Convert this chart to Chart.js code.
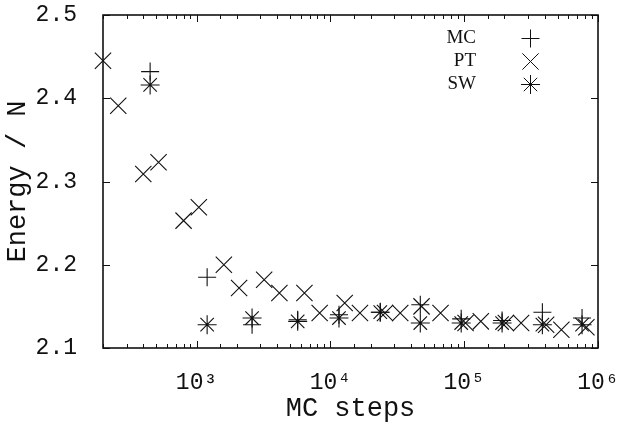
<!DOCTYPE html>
<html><head><meta charset="utf-8">
<script src="https://cdn.jsdelivr.net/npm/chart.js@4.4.0/dist/chart.umd.min.js"></script>
<style>html,body{margin:0;padding:0;background:#fff}</style>
</head><body><canvas id="c" width="617" height="428"></canvas>
<script>
// ---- data ----
const ptSteps  = [200, 260, 400, 520, 800, 1040, 1600, 2080, 3200, 4160, 6400, 8320, 12800, 16640, 25600, 33280, 48000, 66560, 102400, 133120, 204800, 266240, 409600, 532480, 819200];
const ptEnergy = [2.445, 2.391, 2.309, 2.323, 2.253, 2.269, 2.200, 2.172, 2.182, 2.166, 2.166, 2.142, 2.154, 2.142, 2.142, 2.142, 2.150, 2.142, 2.130, 2.132, 2.130, 2.130, 2.128, 2.122, 2.125];
const mcSteps  = [450, 1200, 2600, 5700, 11600, 23600, 47000, 95000, 192000, 384000, 760000];
const mcEnergy = [2.432, 2.185, 2.128, 2.134, 2.140, 2.143, 2.152, 2.135, 2.133, 2.143, 2.136];
const swSteps  = [450, 1200, 2600, 5700, 11600, 23600, 47000, 95000, 192000, 384000, 760000];
const swEnergy = [2.416, 2.128, 2.136, 2.132, 2.136, 2.143, 2.130, 2.130, 2.130, 2.128, 2.128];
const seriesNames = ['MC', 'PT', 'SW'];
const xTickValues = [1e3, 1e4, 1e5, 1e6];
const xTickLabels = ['10³', '10⁴', '10⁵', '10⁶'];
const yTickValues = [2.1, 2.2, 2.3, 2.4, 2.5];

const toPts = (xs, ys) => xs.map((x, i) => ({x: x, y: ys[i]}));
const MONO = '"Liberation Mono", "DejaVu Sans Mono", monospace';
const INK = '#111';

const markerStyles = {MC: {style: 'cross', r: 9}, PT: {style: 'crossRot', r: 11.5}, SW: {style: 'star', r: 9.5}};

const framePlugin = {
  id: 'frame',
  afterDatasetsDraw(chart) {
    const ctx = chart.ctx, a = chart.chartArea;
    const xs = chart.scales.x, ys = chart.scales.y;
    ctx.save();
    ctx.strokeStyle = INK;
    ctx.lineWidth = 1;
    xs.ticks.forEach(t => {
      const v = t.value;
      const px = Math.round(xs.getPixelForValue(v)) + 0.5;
      const lg = Math.log10(v);
      const major = Math.abs(lg - Math.round(lg)) < 1e-9;
      const len = major ? 7 : 4;
      ctx.beginPath();
      ctx.moveTo(px, a.bottom); ctx.lineTo(px, a.bottom - len);
      ctx.moveTo(px, a.top); ctx.lineTo(px, a.top + len);
      ctx.stroke();
    });
    yTickValues.forEach(v => {
      const py = Math.round(ys.getPixelForValue(v)) + 0.5;
      ctx.beginPath();
      ctx.moveTo(a.left, py); ctx.lineTo(a.left + 7, py);
      ctx.moveTo(a.right, py); ctx.lineTo(a.right - 7, py);
      ctx.stroke();
    });
    ctx.lineWidth = 1.6;
    ctx.strokeRect(a.left, a.top, a.right - a.left, a.bottom - a.top);
    ctx.font = '19px "Liberation Serif", "DejaVu Serif", serif';
    ctx.fillStyle = INK;
    ctx.textAlign = 'right';
    ctx.textBaseline = 'middle';
    seriesNames.forEach((n, i) => {
      const y = 38 + i * 23;
      ctx.fillText(n, 476, y);
      const m = markerStyles[n];
      ctx.lineWidth = 1;
      ctx.strokeStyle = INK;
      Chart.helpers.drawPoint(ctx, {pointStyle: m.style, radius: m.r, borderWidth: 1}, 530.5, y + 0.5);
    });
    ctx.restore();
  }
};

const ds = (label, xs, ys) => ({
  label: label,
  data: toPts(xs, ys),
  showLine: false,
  clip: false,
  pointStyle: markerStyles[label].style,
  pointRadius: markerStyles[label].r,
  pointBorderWidth: 1.1,
  borderColor: INK,
  backgroundColor: INK,
  pointHoverRadius: markerStyles[label].r
});

const zeroPad = s => { s.paddingTop = 0; s.paddingBottom = 0; s.paddingLeft = 0; s.paddingRight = 0; };

new Chart(document.getElementById('c'), {
  type: 'scatter',
  data: {datasets: [ds('MC', mcSteps, mcEnergy), ds('PT', ptSteps, ptEnergy), ds('SW', swSteps, swEnergy)]},
  options: {
    responsive: false,
    devicePixelRatio: 1,
    animation: false,
    layout: {padding: {left: 0, right: 19, top: 15, bottom: 0}},
    plugins: {legend: {display: false}, tooltip: {enabled: false}},
    scales: {
      x: {
        type: 'logarithmic', min: 200, max: 1e6,
        grid: {display: false}, border: {display: false},
        afterFit(s) { s.height = 80; zeroPad(s); },
        ticks: {
          autoSkip: false, maxRotation: 0, padding: 13, color: INK,
          font: {family: MONO, size: 23},
          callback(v) { const i = xTickValues.indexOf(Number(v)); return i >= 0 ? xTickLabels[i] : ''; }
        },
        title: {display: true, text: 'MC steps', color: INK, font: {family: MONO, size: 27}, padding: {top: 0, bottom: 3}}
      },
      y: {
        min: 2.1, max: 2.5,
        grid: {display: false}, border: {display: false},
        afterFit(s) { s.width = 103; zeroPad(s); },
        afterBuildTicks(s) { s.ticks = yTickValues.map(v => ({value: v})); },
        ticks: {padding: 18, color: INK, font: {family: MONO, size: 23}, callback(v) { return Number(v).toFixed(1); }},
        title: {display: true, text: 'Energy / N', color: INK, font: {family: MONO, size: 27}, padding: {top: 2, bottom: 0}}
      }
    }
  },
  plugins: [framePlugin]
});
</script></body></html>
